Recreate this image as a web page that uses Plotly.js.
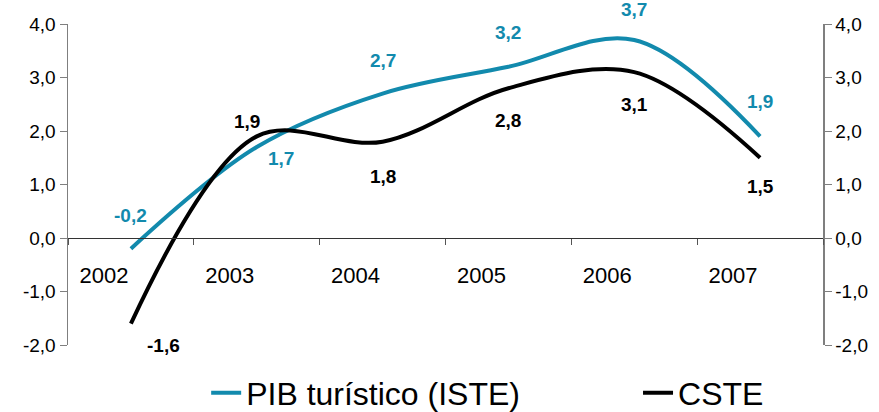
<!DOCTYPE html>
<html><head><meta charset="utf-8">
<script src="https://cdn.plot.ly/plotly-3.0.1.min.js"></script>
<style>html,body{margin:0;padding:0;background:#fff}</style>
</head><body>
<div id="chart" style="width:879px;height:412px"></div>
<div id="err" style="position:absolute;top:0;left:0;color:red;font-size:12px"></div>
<script>
const years = ['2002','2003','2004','2005','2006','2007'];
const pibTuristico = [-0.2, 1.7, 2.7, 3.2, 3.7, 1.9];
const cste = [-1.6, 1.9, 1.8, 2.8, 3.1, 1.5];
const seriesNames = ['PIB turístico (ISTE)', 'CSTE'];
const yTickValues = [-2, -1, 0, 1, 2, 3, 4];

// label offsets (px) – styling only
const pibLabelShift = [[0,33],[24,-11],[0,33],[0,34],[0,31],[0,35]];
const csteLabelShift = [[33,-22],[-10,15],[0,-35],[0,-32],[0,-32],[0,-29]];

const blue = '#128aad', black = '#000000';
const FONT = 'Liberation Sans, Arial, sans-serif';

const fmt = v => v.toFixed(1).replace('.', ',');

const traces = [
  {x: years, y: pibTuristico, name: seriesNames[0], type: 'scatter', mode: 'lines', legend: 'legend',
   xaxis: 'x', yaxis: 'y',
   line: {color: blue, width: 4, shape: 'spline', smoothing: 1}, hoverinfo: 'skip'},
  {x: years, y: cste, name: seriesNames[1], type: 'scatter', mode: 'lines', legend: 'legend2',
   xaxis: 'x', yaxis: 'y2',
   line: {color: black, width: 4, shape: 'spline', smoothing: 1}, hoverinfo: 'skip'}
];

const annotations = [];
pibTuristico.forEach((v, i) => annotations.push({x: i, y: v, xref: 'x', yref: 'y',
  text: '<b>' + fmt(v) + '</b>', showarrow: false, xshift: pibLabelShift[i][0], yshift: pibLabelShift[i][1],
  font: {family: FONT, size: 19, color: blue}}));
cste.forEach((v, i) => annotations.push({x: i, y: v, xref: 'x', yref: 'y',
  text: '<b>' + fmt(v) + '</b>', showarrow: false, xshift: csteLabelShift[i][0], yshift: csteLabelShift[i][1],
  font: {family: FONT, size: 19, color: black}}));

const yCommon = {range: [-2, 4], tickmode: 'array', tickvals: yTickValues, ticktext: yTickValues.map(fmt),
  showgrid: false, zeroline: false,
  showline: true, linecolor: '#7f7f7f', linewidth: 1.5, ticks: 'outside', ticklen: 7, tickcolor: '#7f7f7f',
  tickfont: {family: FONT, size: 19, color: '#000'}, fixedrange: true};

const legendCommon = {orientation: 'h', xanchor: 'left', yref: 'container', y: 0.046, yanchor: 'middle',
  font: {family: FONT, size: 32, color: '#000'}, bgcolor: 'rgba(0,0,0,0)'};

const layout = {
  width: 879, height: 412,
  margin: {l: 68, r: 56, t: 24, b: 67},
  paper_bgcolor: '#ffffff', plot_bgcolor: 'rgba(0,0,0,0)',
  showlegend: true,
  legend: Object.assign({}, legendCommon, {x: 0.183}),
  legend2: Object.assign({}, legendCommon, {x: 0.755}),
  xaxis: {type: 'category', range: [-0.5, 5.5], anchor: 'free', position: 1/3,
    showline: true, linecolor: '#333', linewidth: 1.2, ticks: 'outside', ticklen: 6, tickcolor: '#555',
    tickson: 'boundaries', showgrid: false, zeroline: false,
    ticklabelshift: -27, ticklabelstandoff: 17,
    tickfont: {family: FONT, size: 22, color: '#000'}, fixedrange: true},
  yaxis: Object.assign({}, yCommon, {side: 'left'}),
  yaxis2: Object.assign({}, yCommon, {overlaying: 'y', side: 'right', anchor: 'x'}),
  annotations: annotations
};

try {
  Plotly.newPlot('chart', traces, layout, {staticPlot: true, displayModeBar: false})
    .catch(e => { document.getElementById('err').textContent = 'P: ' + e; });
} catch (e) { document.getElementById('err').textContent = 'E: ' + e + ' ' + e.stack; }
</script>
</body></html>
